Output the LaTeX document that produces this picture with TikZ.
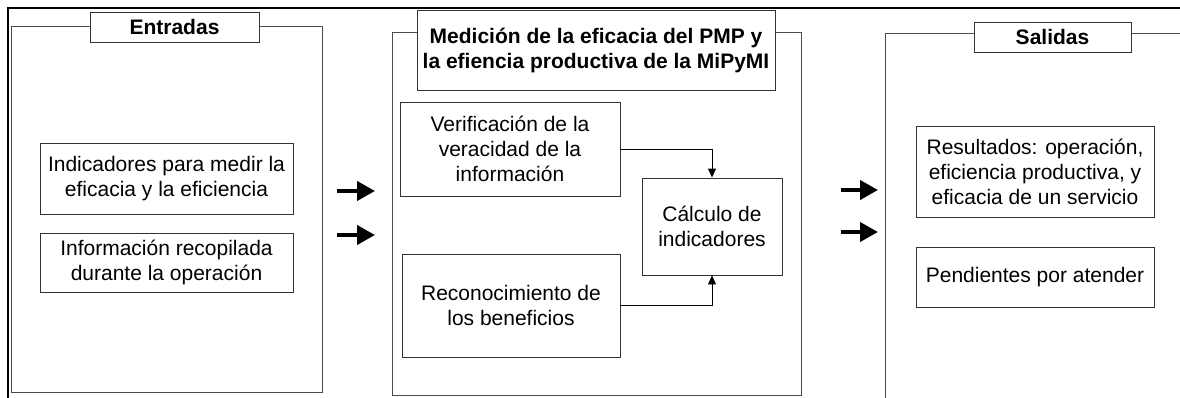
\documentclass[tikz,border=0pt]{standalone}
\usepackage{fontspec}
\setmainfont{Liberation Sans}
\usetikzlibrary{arrows.meta}
\tikzset{
  panel/.style={draw=black!70, line width=1pt},
  boxnode/.style={draw=black!80, line width=0.9pt, fill=white, inner sep=0pt, align=center,
    font=\fontsize{21}{25}\selectfont},
  titlenode/.style={boxnode, font=\fontsize{21}{25}\selectfont\bfseries},
  bigarrow/.style={line width=4pt, -{Triangle[length=18pt,width=19pt]}},
  smallarrow/.style={line width=0.9pt, -{Triangle[length=9pt,width=8pt]}},
}
\begin{document}
\begin{tikzpicture}[x=1pt,y=-1pt]
\useasboundingbox (0,0) rectangle (1180,397);
\clip (0,0) rectangle (1180,397);
\fill[white] (0,0) rectangle (1180,397);
% outer frame
\draw[line width=2.6pt] (7.8,420) -- (7.8,7.8) -- (1200,7.8);
% left panel
\node[panel, minimum width=311pt, minimum height=366pt, inner sep=0pt] (pin) at (166.5,209) {};
\node[titlenode, minimum width=169pt, minimum height=30pt] (tin) at (174.5,27) {Entradas};
\node[boxnode, minimum width=253pt, minimum height=71pt] (ind) at (166.5,178.5) {Indicadores para medir la\\eficacia y la eficiencia};
\node[boxnode, minimum width=253pt, minimum height=59pt] (info) at (166.5,262.5) {Información recopilada\\durante la operación};
% middle panel
\node[panel, minimum width=409pt, minimum height=363pt, inner sep=0pt] (pmid) at (596.5,213.5) {};
\node[titlenode, minimum width=358pt, minimum height=80pt] (tmid) at (596,50) {Medición de la eficacia del PMP y\\la efiencia productiva de la MiPyMI};
\node[boxnode, minimum width=220pt, minimum height=94pt] (ver) at (510,149) {Verificación de la\\veracidad de la\\información};
\node[boxnode, minimum width=140pt, minimum height=97pt] (calc) at (712,226.5) {Cálculo de\\indicadores};
\node[boxnode, minimum width=218pt, minimum height=103pt] (rec) at (511,305.5) {Reconocimiento de\\los beneficios};
\draw[smallarrow] (ver.east) -| (calc.north);
\draw[smallarrow] (rec.east) -| (calc.south);
% right panel
\coordinate (rtr) at (1200,33);
\coordinate (rtl) at (885,33);
\coordinate (rbl) at (885,420);
\draw[panel] (rtr) -- (rtl) -- (rbl);
\node[titlenode, minimum width=157pt, minimum height=30pt] (tout) at (1052.5,37) {Salidas};
\node[boxnode, minimum width=238pt, minimum height=91pt] (res) at (1035,171.5) {Resultados: operación,\\eficiencia productiva, y\\eficacia de un servicio};
\node[boxnode, minimum width=238pt, minimum height=60pt] (pend) at (1035,277) {Pendientes por atender};
% arrows between panels
\coordinate (a1s) at (337,191); \coordinate (a1e) at (375,191);
\coordinate (a2s) at (337,235); \coordinate (a2e) at (375,235);
\coordinate (a3s) at (841,190); \coordinate (a3e) at (878,190);
\coordinate (a4s) at (841,232); \coordinate (a4e) at (878,232);
\draw[bigarrow] (a1s) -- (a1e);
\draw[bigarrow] (a2s) -- (a2e);
\draw[bigarrow] (a3s) -- (a3e);
\draw[bigarrow] (a4s) -- (a4e);
\end{tikzpicture}
\end{document}
